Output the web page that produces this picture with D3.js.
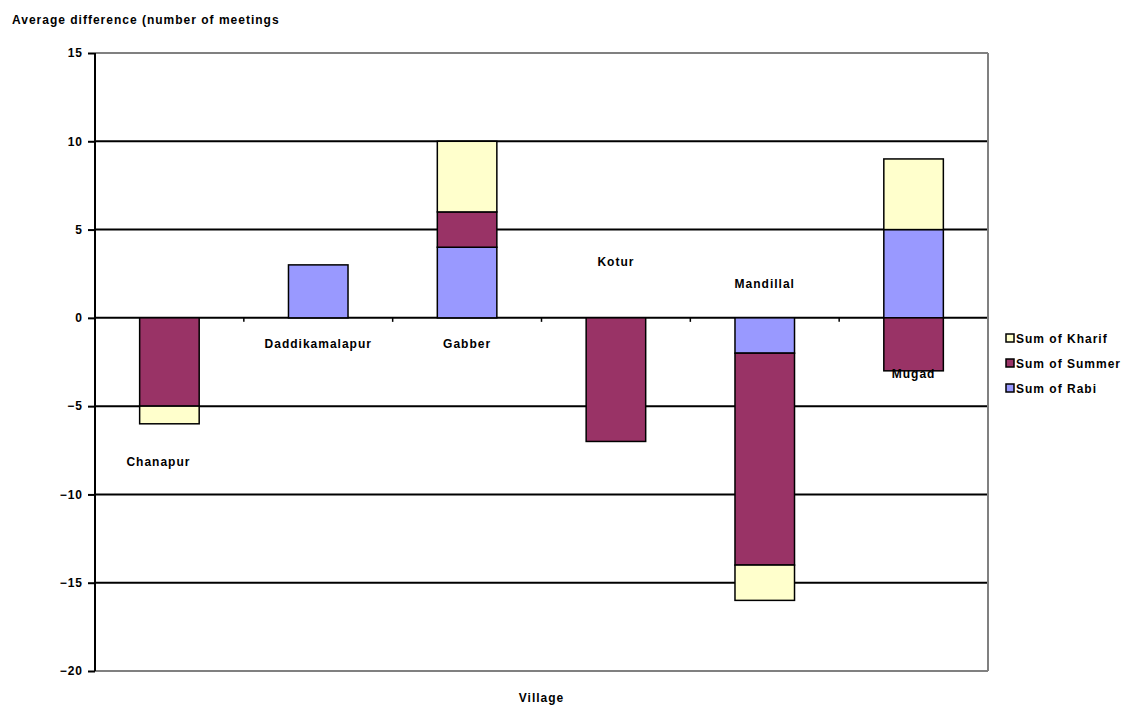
<!DOCTYPE html>
<html>
<head>
<meta charset="utf-8">
<script src="https://cdn.jsdelivr.net/npm/d3@7"></script>
<style>
  html, body { margin: 0; padding: 0; background: #fff; }
  svg text { font-family: "Liberation Sans", Arial, sans-serif; font-weight: bold; font-size: 12px; letter-spacing: 1px; fill: #000; }
</style>
</head>
<body>
<svg id="chart" width="1127" height="706"></svg>
<script>
// Villages and the seasonal differences in number of meetings
const villages = ["Chanapur", "Daddikamalapur", "Gabber", "Kotur", "Mandillal", "Mugad"];
const rabi   = [0, 3, 4, 0, -2, 5];
const summer = [-5, 0, 2, -7, -12, -3];
const kharif = [-1, 0, 4, 0, -2, 4];
const seriesNames = ["Sum of Rabi", "Sum of Summer", "Sum of Kharif"];
const yTicks = [-20, -15, -10, -5, 0, 5, 10, 15];

// Where each village's name sits along the value axis
const labelAt = [-8.1, -1.4, -1.4, 3.2, 2.0, -3.1];

const colors = { "Sum of Rabi": "#9999FF", "Sum of Summer": "#993366", "Sum of Kharif": "#FFFFCC" };

const svg = d3.select("#chart");
const plot = { left: 95, right: 988, top: 53, bottom: 671 };

const x = d3.scaleBand().domain(villages).range([plot.left, plot.right]).padding(0);
const y = d3.scaleLinear().domain([-20, 15]).range([plot.bottom, plot.top]);
const barW = x.bandwidth() * 0.4;

// Gridlines (outer edges of the plot area are grey)
svg.append("g").selectAll("line").data(yTicks).join("line")
  .attr("x1", plot.left).attr("x2", plot.right)
  .attr("y1", d => y(d)).attr("y2", d => y(d))
  .attr("stroke", d => (d === 15 || d === -20) ? "#808080" : "#000")
  .attr("stroke-width", 2);

// Right border
svg.append("line")
  .attr("x1", plot.right).attr("x2", plot.right)
  .attr("y1", plot.top).attr("y2", plot.bottom)
  .attr("stroke", "#808080").attr("stroke-width", 2);

// Stacked bars: positives and negatives stack away from zero separately
const seriesVals = [rabi, summer, kharif];
const segs = [];
villages.forEach((v, i) => {
  let pos = 0, neg = 0;
  seriesVals.forEach((vals, s) => {
    const val = vals[i];
    if (val === 0) return;
    let y0, y1;
    if (val > 0) { y0 = pos; y1 = pos + val; pos = y1; }
    else { y0 = neg; y1 = neg + val; neg = y1; }
    segs.push({ village: v, series: seriesNames[s], y0, y1 });
  });
});

svg.append("g").selectAll("rect").data(segs).join("rect")
  .attr("x", d => x(d.village) + (x.bandwidth() - barW) / 2)
  .attr("width", barW)
  .attr("y", d => y(Math.max(d.y0, d.y1)))
  .attr("height", d => Math.abs(y(d.y0) - y(d.y1)))
  .attr("fill", d => colors[d.series])
  .attr("stroke", "#000").attr("stroke-width", 1.5);

// Value axis
const yAxis = d3.axisLeft(y).tickValues(yTicks).tickSize(7).tickPadding(5);
const ga = svg.append("g").attr("transform", `translate(${plot.left},0)`).call(yAxis);
ga.select(".domain").attr("stroke", "#000").attr("stroke-width", 2).attr("d", `M0,${plot.top}V${plot.bottom}`);
ga.selectAll(".tick line").attr("stroke", "#000").attr("stroke-width", 2);
ga.selectAll(".tick text")
  .style("font-size", "12px").style("font-weight", "bold").style("letter-spacing", "1px")
  .attr("fill", "#000");

// Category ticks along the zero line
const catTicks = villages.slice(1).map(v => x(v));
svg.append("g").selectAll("line").data(catTicks).join("line")
  .attr("x1", d => d).attr("x2", d => d)
  .attr("y1", y(0)).attr("y2", y(0) + 4)
  .attr("stroke", "#000").attr("stroke-width", 1.5);

// Village names
svg.append("g").selectAll("text").data(villages).join("text")
  .attr("x", (d, i) => x(d) + x.bandwidth() / 2 - (i === 0 ? 11 : 0))
  .attr("y", (d, i) => y(labelAt[i]) + 5)
  .attr("text-anchor", "middle")
  .text(d => d);

// Titles
svg.append("text").attr("x", 12).attr("y", 24).text("Average difference (number of meetings");
svg.append("text").attr("x", (plot.left + plot.right) / 2).attr("y", 702).attr("text-anchor", "middle").text("Village");

// Legend (top entry is the last series)
const legendOrder = ["Sum of Kharif", "Sum of Summer", "Sum of Rabi"];
const lg = svg.append("g").attr("transform", "translate(1006,334)");
legendOrder.forEach((name, i) => {
  const row = lg.append("g").attr("transform", `translate(0,${i * 25})`);
  row.append("rect").attr("width", 8).attr("height", 8)
    .attr("fill", colors[name]).attr("stroke", "#000").attr("stroke-width", 1.5);
  row.append("text").attr("x", 10).attr("y", 9).text(name);
});
</script>
</body>
</html>
